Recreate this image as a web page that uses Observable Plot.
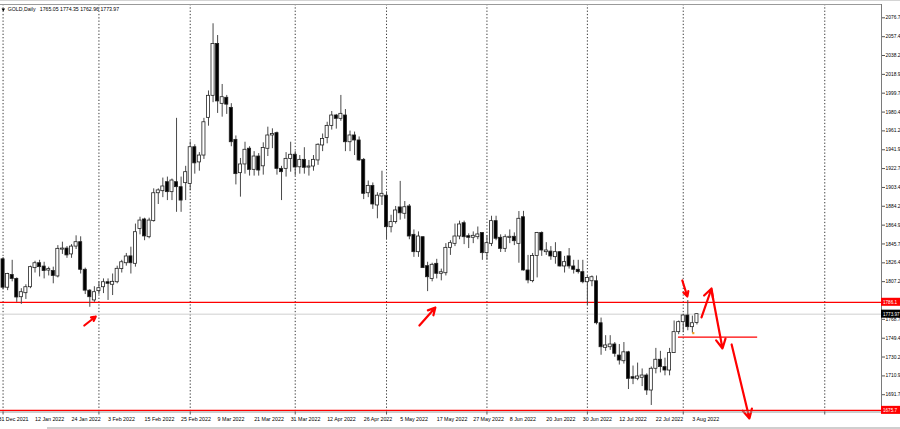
<!DOCTYPE html>
<html><head><meta charset="utf-8">
<script src="https://cdn.jsdelivr.net/npm/d3@7"></script>
<script src="https://cdn.jsdelivr.net/npm/@observablehq/plot@0.6"></script>
<style>
html,body{margin:0;padding:0;background:#fff;width:900px;height:429px;overflow:hidden;}
#chart{position:relative;width:900px;height:429px;}
#topline{position:absolute;left:0;top:0;width:900px;height:1px;background:#d4d4d4;}
#scroll{position:absolute;left:47px;top:427px;width:853px;height:2px;background:#cfcfcf;}
</style></head><body><div id="chart"><div id="topline"></div><div id="scroll"></div></div>
<script>
// ---- data: GOLD daily, bar index 0 = 31 Dec 2021 ----
const opens = [
1815.6,1830,1801,1814,1810,1791.3,1795.4,1801.5,1821,1826,
1822.6,1818.5,1818,1812.5,1840,1841,1835,1843,1847.5,1819.3,
1798,1788,1797.5,1801.5,1806.6,1804,1806.6,1820,1826,1833,
1825.4,1861,1870.7,1852.6,1869,1897.5,1899.6,1908.8,1898.6,1908.8,
1903.7,1907.8,1907,1944.5,1929,1936,1974.5,1997,2050,1988.8,
1995,1984.7,1952,1918,1926.9,1943,1921.4,1935,1925,1942.9,
1956.5,1958.9,1922.4,1922.4,1932.6,1936.8,1924,1931.6,1924.1,1924.8,
1931,1946.3,1954,1966.3,1976.9,1973.5,1976.9,1949.6,1956.5,1951.4,
1931.6,1897.5,1905,1885,1894.2,1895,1862.8,1868,1883,1876.5,
1884,1855,1837.3,1852.6,1823,1810,1825.4,1815.2,1815.8,1841.7,
1845.8,1853.3,1866.9,1853.6,1852,1852.6,1856.8,1836.3,1845.8,1869,
1852,1840.7,1852,1853,1845.8,1873,1818.6,1807.7,1833.4,1856.8,
1837.3,1837.9,1832.2,1837.3,1822.7,1833,1822.7,1819.3,1816.9,1806.6,
1807.6,1807.6,1764.7,1739.6,1740.2,1743,1731.7,1725.9,1735,1709.6,
1708,1709,1711.3,1696,1718.2,1727.4,1719.9,1716.4,1734.2,1755.6,
1765.8,1772.6,1760.7,1765.05];
const highs = [
1830,1831.8,1815.7,1829,1811,1800,1804,1823,1828,1829,
1827,1822,1822,1844,1847.5,1843,1845,1854,1853,1821,
1799,1802,1807,1810,1810,1815,1823,1829,1836,1842.4,
1866,1873,1872,1872,1902,1902,1913,1914,1912,1974,
1914,1925,1950,1947,1939,1974,2002,2070.6,2058.6,2008.6,
1997.4,1989,1956,1933,1949.6,1945,1940,1938,1949,1965,
1963.3,1960,1925,1939,1949.6,1940,1936,1944,1931,1936,
1948,1958,1970,1981,1978,1997.4,1983,1961,1960,1955,
1933,1910,1908,1898,1920,1899,1875,1884,1909.6,1889,
1886,1860,1858,1853,1827,1826,1830,1820,1846,1849,
1866,1869,1869,1856,1858,1863,1857,1854,1874,1874,
1855,1855,1860,1857,1878.8,1879,1834,1836,1857.5,1858,
1847,1843,1847,1838,1833,1841,1829,1829,1829,1813,
1813,1813,1770,1752,1752,1745,1743,1745,1736,1721,
1724,1718,1713,1720,1739,1736,1729,1739,1767,1767,
1774,1787.9,1772,1774.35];
const lows = [
1812.5,1798.7,1798,1807,1786,1784,1789,1800,1816,1812,
1810,1813,1805,1811,1835,1831,1831,1840,1815,1794,
1781,1786,1794,1795,1788,1793,1805,1816,1823,1815,
1822,1855,1849,1851,1868,1886,1893,1890,1890,1878,
1878,1890,1900,1917,1920,1932,1966,1990,1979,1975.2,
1978,1945,1906,1893.5,1917,1915,1915,1915,1916,1935,
1943,1916,1890,1914,1919,1915,1917,1917,1915,1920,
1926,1940,1948,1962,1963,1971,1940,1940,1936,1930,
1891,1893,1881,1871.4,1885,1850,1857,1866,1870,1871,
1850,1832,1832,1821,1797,1807,1810,1808,1813,1834,
1843,1850,1845,1841,1846,1850,1829,1829,1843,1849,
1837,1837,1846,1844,1826,1818,1805,1806,1811,1833,
1834,1829,1825,1822,1816,1820,1815,1815,1805,1783,
1802,1763,1732,1736,1737,1730,1722,1723,1697,1702,
1706,1700,1691,1680.7,1713,1714,1711,1711,1734,1753,
1755,1757,1754.5,1762.96];
const closes = [
1828.6,1801,1815,1810,1791,1796.4,1801.5,1822,1826,1822,
1818,1820,1813,1840.7,1841,1834,1843,1847.5,1819.3,1798,
1791.3,1796.4,1800.5,1806.6,1805,1807,1820.3,1827,1832.9,1826,
1857.7,1869.6,1853.4,1869.6,1897.5,1900.4,1904.4,1898.6,1910.5,1903.7,
1890,1919,1944.5,1928,1936,1970,1997,2050,1991.3,1995.6,
1988,1949.6,1917,1926.9,1941.9,1921.4,1935,1920.7,1943.8,1956.5,
1958,1922.4,1919,1932.6,1936.8,1923.8,1931.6,1923.5,1924.8,1931.6,
1947,1953,1966.3,1976.9,1973.5,1978.6,1949.6,1956.5,1951.4,1931,
1896.9,1905,1886,1895,1896.9,1862.8,1868,1879.9,1877,1883.2,
1853.3,1837.3,1853.3,1821,1811.7,1824.4,1815.2,1816.8,1841.7,1846.5,
1853.3,1865.6,1852.6,1852,1854,1855.4,1836.3,1846.5,1869,1851,
1840.7,1852.6,1853,1848.5,1871.4,1818.6,1808.4,1833.4,1856.8,1839,
1839,1832.9,1837.3,1822.7,1827.1,1822.7,1819.3,1816.9,1806.6,1811,
1811.7,1764.7,1740.2,1742,1743,1733.5,1726.6,1735,1707.9,1708,
1710.3,1711.3,1696,1718.2,1727.4,1719.9,1716.4,1734.2,1755.6,1765.8,
1772.6,1760.7,1764.7,1773.97];

// x-axis date labels (bar index -> label)
const xTickIdx = [0,8,16,24,32,40,48,56,64,72,80,88,96,104,112,120,128,136,144,152];
const xTickLabels = ["31 Dec 2021","12 Jan 2022","24 Jan 2022","3 Feb 2022","15 Feb 2022","25 Feb 2022","9 Mar 2022","21 Mar 2022","31 Mar 2022","12 Apr 2022","26 Apr 2022","5 May 2022","17 May 2022","27 May 2022","8 Jun 2022","20 Jun 2022","30 Jun 2022","12 Jul 2022","22 Jul 2022","3 Aug 2022"];
// vertical period separators (bar index)
const gridIdx = [1,22,42,65,85,107,129,150,181];
// price scale labels
const yTicks = [2076.7,2057.4,2038.2,2018.9,1999.7,1980.4,1961.2,1941.9,1922.7,1903.4,1884.2,1864.9,1845.7,1826.4,1807.2,1768.7,1749.4,1730.2,1710.9,1691.7];
// horizontal levels and price label boxes
const levelPrices = [1786.1, 1675.7];
const currentPrice = 1773.97;
const boxPrices = [1786.1, 1675.7, 1773.97];
const boxTexts = ["1786.1", "1675.7", "1773.97"];
const boxColors = ["#ff0000", "#ff0000", "#000000"];
// short level segment
const segPrice = [1750.6];
const segStart = [148.95];
const segEnd = [166.3];
// annotation arrows (bar index, price)
const arrX1 = [18.8, 92.2, 149.8, 154.0, 156.2, 160.6];
const arrY1 = [1762.4, 1762.4, 1808.4, 1770.6, 1798.2, 1743.0];
const arrX2 = [21.3, 95.7, 150.9, 156.2, 158.6, 164.5];
const arrY2 = [1771.6, 1780.8, 1792.0, 1800.2, 1738.9, 1667.4];
// header
const headerName = "GOLD,Daily";
const headerValues = "1765.05 1774.35 1762.96 1773.97";

// ---- build ----
const candles = opens.map((o, i) => {
  const c = closes[i];
  let top = Math.max(o, c), bot = Math.min(o, c);
  if (top - bot < 1.1) bot = top - 1.1;
  return {i, o, h: highs[i], l: lows[i], c, top, bot, up: c >= o};
});
const labelOf = new Map(xTickIdx.map((d, k) => [d, xTickLabels[k]]));
const boxes = boxPrices.map((p, k) => ({p, t: boxTexts[k], f: boxColors[k]}));
const arrows = arrX1.map((x1, k) => ({x1, y1: arrY1[k], x2: arrX2[k], y2: arrY2[k]}));
const segs = segPrice.map((p, k) => ({p, a: segStart[k], b: segEnd[k]}));

const xDomain = [0.438, 193.43];
const yDomain = [1674.04, 2090.29];
const half = 0.34;
const boxW = 4.3, boxH = 4.1;
const font = "'Liberation Sans', Arial, sans-serif";

const chart = Plot.plot({
  width: 900, height: 429,
  marginLeft: 0, marginRight: 19, marginTop: 4, marginBottom: 17.5,
  x: {type: "linear", domain: xDomain, axis: null},
  y: {type: "linear", domain: yDomain, axis: null},
  style: {fontFamily: font, background: "#fff", color: "#000", overflow: "visible"},
  marks: [
    Plot.ruleX(gridIdx, {x: d => d, stroke: "#222", strokeDasharray: "1.3,2", strokeWidth: 0.9}),
    Plot.ruleY([currentPrice], {stroke: "#cfcfcf", strokeWidth: 1}),
    Plot.ruleY(levelPrices, {stroke: "#ff0000", strokeWidth: 1.3}),
    Plot.ruleY(segs, {y: "p", x1: "a", x2: "b", stroke: "#ff0000", strokeWidth: 1.3}),
    Plot.ruleX(candles, {x: "i", y1: "l", y2: "h", stroke: "#4a4a4a", strokeWidth: 1, clip: true}),
    Plot.rect(candles, {x1: d => d.i - half, x2: d => d.i + half, y1: "bot", y2: "top",
      fill: d => d.up ? "#ffffff" : "#000000", stroke: "#222", strokeWidth: 0.8, clip: true}),
    Plot.dot([{i: 152.2, p: 1754.6}], {x: "i", y: "p", r: 1.2, symbol: "square", fill: "#f0a020"}),
    Plot.arrow(arrows, {x1: "x1", y1: "y1", x2: "x2", y2: "y2", stroke: "#ff0000",
      strokeWidth: 2.2, headLength: 7, headAngle: 55, clip: false}),
    Plot.ruleX([xDomain[1]], {stroke: "#7a7a7a"}),
    Plot.ruleY([yDomain[0], yDomain[1]], {stroke: "#9a9a9a"}),
    Plot.axisY({anchor: "right", ticks: yTicks, tickFormat: d => d.toFixed(1), tickSize: 3,
      tickPadding: 1, fontSize: 4.9, stroke: "#555"}),
    Plot.axisX({anchor: "bottom", ticks: xTickIdx, tickFormat: d => labelOf.get(d), tickSize: 0,
      tickPadding: 5.5, textAnchor: "start", fontSize: 5.3}),
    Plot.axisX({anchor: "bottom", ticks: gridIdx, tickFormat: () => "", tickSize: 3, stroke: "#555"}),
    Plot.rect(boxes, {x1: () => xDomain[1], x2: () => xDomain[1] + boxW,
      y1: d => d.p - boxH, y2: d => d.p + boxH, fill: "f", clip: false}),
    Plot.text(boxes, {x: () => xDomain[1], y: "p", text: "t", fill: "#fff", textAnchor: "start",
      dx: 1.5, fontSize: 4.6, clip: false}),
    Plot.text([headerName], {frameAnchor: "top-left", text: d => d, dx: 7.3, dy: 5,
      fontSize: 5.2, textAnchor: "start", lineAnchor: "middle"}),
    Plot.text([headerValues], {frameAnchor: "top-left", text: d => d, dx: 39.3, dy: 5,
      fontSize: 5.2, textAnchor: "start", lineAnchor: "middle"}),
    Plot.dot([0], {frameAnchor: "top-left", dx: 2.8, dy: 5, symbol: "triangle", r: 1.3,
      fill: "#000", rotate: 180})
  ]
});
document.getElementById("chart").appendChild(chart);
</script>
</body></html>
